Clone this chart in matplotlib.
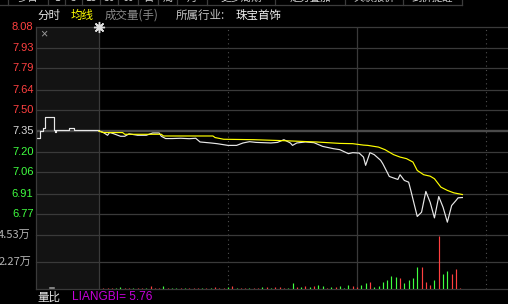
import matplotlib
matplotlib.use('Agg')
import matplotlib.pyplot as plt
from matplotlib.lines import Line2D
from matplotlib.transforms import blended_transform_factory

# minute index counted from 9:30 (13:00 -> 120), auction period is negative
auction_minutes = [-29.5, -29.3, -27.2, -26.0, -25.1, -20.9, -20.3, -19.8, -14.0, -11.6, 0.0]
auction_prices = [7.35, 7.30, 7.35, 7.37, 7.45, 7.36, 7.34, 7.36, 7.37, 7.36, 7.35]

price_minutes = [0, 2, 4, 5, 7, 10, 12, 14, 18, 22, 25, 28, 29, 31, 34, 38, 42, 45, 47, 52,
                 55, 60, 64, 67, 70, 73, 80, 83, 86, 89, 90, 92, 96, 100, 104, 109, 112, 116, 118, 121,
                 123, 124, 126, 128, 131, 132, 134, 135, 138, 139, 140, 142, 144, 145, 148, 150, 152, 154, 156, 158,
                 160, 162, 164, 166, 167, 169]
price_values = [7.35, 7.34, 7.32, 7.34, 7.33, 7.313, 7.313, 7.33, 7.32, 7.32, 7.336, 7.336, 7.313, 7.297, 7.297, 7.299, 7.296, 7.299, 7.273, 7.266,
                7.261, 7.249, 7.249, 7.266, 7.275, 7.27, 7.266, 7.27, 7.289, 7.266, 7.249, 7.266, 7.273, 7.268, 7.242, 7.226, 7.219, 7.191, 7.198, 7.195,
                7.167, 7.109, 7.198, 7.184, 7.144, 7.12, 7.061, 7.031, 7.015, 7.01, 7.043, 7.003, 6.991, 6.933, 6.75, 6.78, 6.926, 6.85, 6.74, 6.89,
                6.815, 6.71, 6.827, 6.862, 6.881, 6.883]

avg_minutes = [0, 2, 11, 12, 29, 30, 53, 54, 58, 72, 86, 101, 112, 118, 123, 125, 130, 133, 137, 140,
               143, 146, 148, 151, 154, 156, 159, 162, 165, 169]
avg_values = [7.35, 7.339, 7.339, 7.327, 7.327, 7.315, 7.315, 7.304, 7.292, 7.289, 7.282, 7.273, 7.263, 7.261, 7.251, 7.249, 7.237, 7.219, 7.184, 7.167,
              7.156, 7.132, 7.073, 7.043, 7.033, 7.015, 6.956, 6.933, 6.916, 6.904]

# volume in 万手, 'r' = up bar, 'g' = down bar
vol_minutes = [2, 4, 6, 8, 10, 12, 14, 16, 18, 20, 22, 24, 26, 28, 30, 32, 34, 36, 38, 40,
               42, 44, 46, 48, 50, 52, 54, 56, 58, 60, 62, 64, 66, 68, 70, 72, 74, 76, 78, 80,
               82, 84, 86, 88, 90, 92, 94, 96, 98, 100, 102, 104, 106, 108, 110, 112, 114, 116, 118, 120,
               122, 124, 126, 128, 130, 132, 134, 136, 138, 140, 142, 144, 146, 148, 150, 152, 154, 156, 158, 160,
               162, 164, 166, 168]
vol_values = [0.04, 0.04, 0.06, 0.06, 0.14, 0.06, 0.06, 0.06, 0.06, 0.06, 0.06, 0.20, 0.06, 0.06, 0.20, 0.06, 0.06, 0.06, 0.06, 0.06,
              0.06, 0.06, 0.06, 0.06, 0.06, 0.06, 0.13, 0.06, 0.07, 0.13, 0.17, 0.06, 0.06, 0.06, 0.06, 0.04, 0.06, 0.11, 0.11, 0.06,
              0.11, 0.11, 0.06, 0.06, 0.45, 0.11, 0.11, 0.20, 0.11, 0.23, 0.28, 0.23, 0.06, 0.11, 0.11, 0.23, 0.06, 0.31, 0.23, 0.11,
              0.26, 0.48, 0.57, 0.14, 0.23, 0.57, 0.68, 1.08, 0.94, 0.85, 0.43, 0.74, 0.85, 1.84, 1.84, 0.57, 0.31, 0.74, 4.45, 1.25,
              1.50, 1.25, 1.64, 0.03]
vol_dirs = ['r', 'r', 'r', 'g', 'g', 'r', 'r', 'g', 'r', 'r', 'g', 'r', 'r', 'r', 'g', 'r', 'g', 'g', 'r', 'g',
            'r', 'r', 'r', 'g', 'r', 'g', 'r', 'r', 'r', 'g', 'r', 'g', 'r', 'r', 'g', 'r', 'r', 'g', 'r', 'g',
            'r', 'r', 'r', 'g', 'g', 'r', 'g', 'r', 'g', 'r', 'g', 'g', 'r', 'g', 'r', 'g', 'g', 'g', 'r', 'r',
            'g', 'g', 'r', 'g', 'g', 'g', 'g', 'g', 'g', 'r', 'g', 'g', 'g', 'g', 'r', 'r', 'r', 'g', 'r', 'g',
            'g', 'r', 'r', 'r']
auction_vol_minute = -21.7
auction_vol_value = 0.085

price_ticks = [8.08, 7.93, 7.79, 7.64, 7.50, 7.35, 7.20, 7.06, 6.91, 6.77]
pre_close = 7.35
vol_ticks = [4.53, 2.27]

tab_labels = ['多日', '1', '5', '15', '30', '60', '日', '周', '月', '更多周期', '走势叠加', '关联报价', '到价提醒']
tab_edges = [8, 48, 65, 82, 100, 118, 138, 158, 177, 207, 275, 345, 403, 462]

CJK = ['Noto Sans CJK SC', 'DejaVu Sans']
NUM = ['Liberation Sans', 'DejaVu Sans']
GRID = '#3a3a3a'
RED = '#ff4040'
GREEN = '#40ff40'

W, H = 508, 304
def fx(x):
    return x / W
def fy(y):
    return 1 - y / H

fig = plt.figure(figsize=(W / 100, H / 100), dpi=100, facecolor='black')

left_px, top_px, split_px, base_px = 35.5, 27, 235, 288.5
price_ax = fig.add_axes([fx(left_px), fy(split_px), 1 - fx(left_px), fy(top_px) - fy(split_px)])
vol_ax = fig.add_axes([fx(left_px), fy(base_px), 1 - fx(left_px), fy(split_px) - fy(base_px)])

x_lo, x_hi = -29.5, 190.2
for ax in (price_ax, vol_ax):
    ax.set_xlim(x_lo, x_hi)
    ax.axis('off')
    # call auction background
    ax.axvspan(x_lo, 0, color='#131313', lw=0, zorder=0)
    ax.axvline(0, color=GRID, lw=0.9, zorder=1)
    ax.axvline(120, color=GRID, lw=0.9, zorder=1)
    ax.axvline(60, color='#505050', lw=0.8, ls=(0, (1, 3)), zorder=1)
    ax.axvline(180, color='#505050', lw=0.8, ls=(0, (1, 3)), zorder=1)

price_ax.set_ylim(6.62, 8.08)
vol_ax.set_ylim(0, 4.53)

for p in price_ticks:
    if p == pre_close:
        price_ax.axhline(p, color='#4a4a4a', lw=1.7, zorder=1)
    else:
        price_ax.axhline(p, color=GRID, lw=0.9, zorder=1, clip_on=False)
for v in vol_ticks:
    vol_ax.axhline(v, color=GRID, lw=0.9, zorder=1, clip_on=False)
vol_ax.axhline(0, color=GRID, lw=0.9, zorder=1, clip_on=False)
fig.add_artist(Line2D([fx(left_px)] * 2, [fy(top_px), fy(base_px)], color=GRID, lw=0.9))

# price and average lines
price_ax.plot(auction_minutes, auction_prices, color='#e8e8e8', lw=0.85, drawstyle='steps-post', zorder=3)
price_ax.plot(price_minutes, price_values, color='#e8e8e8', lw=0.85, zorder=3)
price_ax.plot(avg_minutes, avg_values, color='#ffff00', lw=0.85, zorder=4)

# volume bars
bar_colors = [RED if d == 'r' else GREEN for d in vol_dirs]
vol_ax.vlines(vol_minutes, 0, vol_values, colors=bar_colors, lw=0.85, zorder=3)
vol_ax.vlines([auction_vol_minute], 0, [auction_vol_value], colors='#808080', lw=4, zorder=3)

# y labels
ptrans = blended_transform_factory(fig.transFigure, price_ax.transData)
for p in price_ticks:
    c = RED if p > pre_close else (GREEN if p < pre_close else '#d8d8d8')
    fig.text(fx(33.5), p, f'{p:.2f}', transform=ptrans, ha='right', va='center',
             color=c, fontsize=8, family=NUM)
vtrans = blended_transform_factory(fig.transFigure, vol_ax.transData)
for v in vol_ticks:
    fig.text(fx(31), v, f'{v:.2f}万', transform=vtrans, ha='right', va='center',
             color='#b4b4b4', fontsize=8, family=CJK)

# icons
fig.text(fx(44), fy(34.5), '×', ha='center', va='center', color='#9a9a9a', fontsize=9, family=NUM)
price_ax.plot([0], [8.08], marker=(8, 2, 0), ms=8, color='#dddddd', mew=1.0, clip_on=False, zorder=6)
price_ax.plot([0], [8.08], marker='o', ms=3.5, color='#dddddd', clip_on=False, zorder=6)

# header row
header = [(37, '分时', '#e6e6e6'), (71, '均线', '#ffff00'), (105, '成交量(手)', '#8a8a8a'),
          (176, '所属行业:', '#c4c4c4'), (236, '珠宝首饰', '#f0f0f0')]
for x, s, c in header:
    fig.text(fx(x), fy(15.5), s, ha='left', va='center', color=c, fontsize=8.3, family=CJK)

# cut-off tab strip at the very top
fig.add_artist(Line2D([0, fx(tab_edges[-1])], [fy(5)] * 2, color='#3c3c3c', lw=0.9))
for e in tab_edges:
    fig.add_artist(Line2D([fx(e)] * 2, [fy(0), fy(5)], color='#3c3c3c', lw=0.9))
for a, b, s in zip(tab_edges[:-1], tab_edges[1:], tab_labels):
    fig.text(fx((a + b) / 2), fy(-2), s, ha='center', va='center', color='#d0d0d0', fontsize=7.5, family=CJK)

# bottom info row
fig.text(fx(37), fy(297), '量比', ha='left', va='center', color='#e6e6e6', fontsize=8.3, family=CJK)
fig.text(fx(72), fy(297), 'LIANGBI= 5.76', ha='left', va='center', color='#c800dc', fontsize=8.6, family=NUM)

fig.savefig('out.png', dpi=100, facecolor='black')
